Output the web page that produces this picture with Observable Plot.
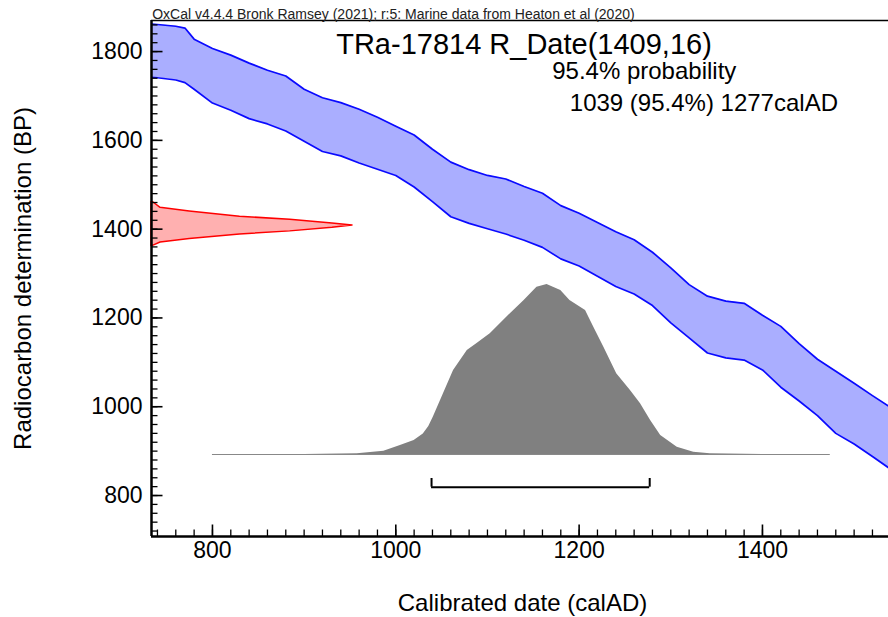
<!DOCTYPE html>
<html><head><meta charset="utf-8">
<script src="https://cdn.jsdelivr.net/npm/d3@7"></script>
<script src="https://cdn.jsdelivr.net/npm/@observablehq/plot@0.6"></script>
<style>
body{margin:0;background:#fff;}
#chart{width:888px;height:617px;overflow:hidden;}
</style></head><body><div id="chart"></div>
<script>
// ---- data ----
const curveYears = [733,740,760,770,780,800,820,840,860,880,900,920,940,960,980,1000,1020,1040,1060,1080,1100,1120,1140,1160,1180,1200,1220,1240,1260,1280,1300,1320,1340,1360,1380,1400,1420,1440,1460,1480,1500,1520,1540];
const curveUpper = [1862,1861,1857,1853,1828,1807,1792,1774,1758,1745,1715,1696,1685,1670,1652,1632,1612,1580,1551,1534,1521,1513,1496,1481,1453,1436,1415,1394,1376,1348,1313,1275,1249,1238,1233,1206,1181,1142,1107,1080,1053,1025,998];
const curveLower = [1742,1741,1736,1730,1715,1684,1668,1649,1637,1621,1598,1575,1565,1549,1535,1521,1495,1462,1428,1413,1401,1389,1375,1359,1333,1317,1294,1271,1254,1228,1189,1155,1121,1110,1105,1083,1044,1013,980,940,916,888,859];

const rBP      = [1461,1460,1448,1440,1428,1421,1413,1408.5,1403,1395,1388,1378,1370,1363,1362];
const rDensity = [0,0.01,0.045,0.19,0.44,0.69,0.90,1.0,0.90,0.69,0.44,0.19,0.045,0.01,0];

const calYears   = [800,900,958,987,1005,1020,1030,1036,1041,1052,1063,1078,1089,1103,1121,1140,1154,1165,1180,1190,1207,1216,1227,1241,1256,1267,1278,1289,1307,1325,1343,1400,1474];
const calDensity = [0,0,0.004,0.019,0.053,0.082,0.12,0.165,0.22,0.357,0.494,0.612,0.655,0.71,0.808,0.906,0.984,1.0,0.965,0.906,0.847,0.749,0.631,0.475,0.376,0.298,0.2,0.112,0.043,0.0135,0.004,0,0];

const rangeStart = 1039, rangeEnd = 1277;
const xMajor = [800,1000,1200,1400];
const yMajor = [800,1000,1200,1400,1600,1800];

const captionText = "OxCal v4.4.4 Bronk Ramsey (2021); r:5: Marine data from Heaton et al (2020)";
const titleText = "TRa-17814 R_Date(1409,16)";
const probText = "95.4% probability";
const rangeText = "1039 (95.4%) 1277calAD";
const xTitle = "Calibrated date (calAD)";
const yTitle = "Radiocarbon determination (BP)";

// ---- layout ----
const W = 888, H = 617, ML = 151, MT = 20, MB = 81, MR = 0;
const X0 = 733.5, X1 = 1537.5, Y0 = 707.7, Y1 = 1870;
const kx = (W - ML - MR) / (X1 - X0), ky = (H - MT - MB) / (Y1 - Y0);
const px = p => p / kx, py = p => p / ky;

const curve = curveYears.map((x, i) => ({x, hi: curveUpper[i], lo: curveLower[i]}));
const red = rBP.map((y, i) => ({y, d: rDensity[i]}));
const cal = calYears.map((x, i) => ({x, d: calDensity[i]}));

const RED_W = px(201);
const GREY_BASE = Y0 + py(82), GREY_H = py(170);
const BR_Y = Y0 + py(49.3), BR_T = py(8.7);

const font = "'Liberation Sans', Arial, Helvetica, sans-serif";

const chart = Plot.plot({
  width: W, height: H,
  marginLeft: ML, marginRight: MR, marginTop: MT, marginBottom: MB,
  x: {domain: [X0, X1]},
  y: {domain: [Y0, Y1]},
  style: {fontFamily: font, background: "white", color: "black"},
  marks: [
    Plot.areaY(curve, {x: "x", y1: "lo", y2: "hi", fill: "#aaaeff", clip: true}),
    Plot.lineY(curve, {x: "x", y: "hi", stroke: "#0a0aff", strokeWidth: 1.7, clip: true}),
    Plot.lineY(curve, {x: "x", y: "lo", stroke: "#0a0aff", strokeWidth: 1.7, clip: true}),
    Plot.areaY(cal, {x: "x", y1: GREY_BASE, y2: d => GREY_BASE + d.d * GREY_H, fill: "#808080"}),
    Plot.ruleY([GREY_BASE], {x1: calYears[0], x2: calYears[calYears.length - 1], stroke: "#888", strokeWidth: 1}),
    Plot.areaX(red, {y: "y", x1: X0, x2: d => X0 + d.d * RED_W, fill: "#ffb0b0", stroke: "#ff0000", strokeWidth: 1.5}),
    Plot.ruleY([BR_Y], {x1: rangeStart, x2: rangeEnd, stroke: "black", strokeWidth: 2}),
    Plot.ruleX([rangeStart, rangeEnd], {y1: BR_Y, y2: BR_Y + BR_T, stroke: "black", strokeWidth: 2}),
    // ticks (inside)
    Plot.ruleY(d3.range(720, 1870, 20), {x1: X0, x2: X0 + px(6.5), stroke: "black", strokeWidth: 1.3}),
    Plot.ruleY(yMajor, {x1: X0, x2: X0 + px(11.5), stroke: "black", strokeWidth: 1.6}),
    Plot.ruleX(d3.range(740, 1540, 20), {y1: Y0, y2: Y0 + py(6.5), stroke: "black", strokeWidth: 1.3}),
    Plot.ruleX(xMajor, {y1: Y0, y2: Y0 + py(11.5), stroke: "black", strokeWidth: 1.6}),
    // frame
    Plot.ruleY([Y1], {x1: X0, x2: X1, stroke: "black", strokeWidth: 1.5}),
    Plot.ruleX([X0], {y1: Y0, y2: Y1, stroke: "black", strokeWidth: 2.5}),
    Plot.ruleY([Y0], {x1: X0, x2: X1, stroke: "black", strokeWidth: 2.5}),
    // axes labels
    Plot.axisX({ticks: xMajor, tickSize: 0, tickPadding: 5, tickFormat: "d", fontSize: 23, label: null}),
    Plot.axisY({ticks: yMajor, tickSize: 0, tickPadding: 9, tickFormat: "d", fontSize: 23, label: null}),
    // texts
    Plot.text([captionText], {text: d => d, frameAnchor: "top-left", textAnchor: "start", lineAnchor: "bottom", dx: 0.7, dy: -2, fontSize: 14, fill: "#222"}),
    Plot.text([titleText], {text: d => d, frameAnchor: "top", textAnchor: "middle", lineAnchor: "bottom", dx: 4, dy: 33, fontSize: 29, fill: "black"}),
    Plot.text([probText], {text: d => d, frameAnchor: "top-left", textAnchor: "start", lineAnchor: "bottom", dx: 400.7, dy: 58, fontSize: 24, fill: "black"}),
    Plot.text([rangeText], {text: d => d, frameAnchor: "top-left", textAnchor: "start", lineAnchor: "bottom", dx: 418.3, dy: 90, fontSize: 24, fill: "black"}),
    Plot.text([xTitle], {text: d => d, frameAnchor: "bottom", textAnchor: "middle", lineAnchor: "bottom", dx: 2.5, dy: 74, fontSize: 24, fill: "black"}),
    Plot.text([yTitle], {text: d => d, frameAnchor: "left", textAnchor: "middle", lineAnchor: "middle", rotate: -90, dx: -128.5, fontSize: 24, fill: "black"})
  ]
});
document.getElementById("chart").appendChild(chart);
</script>
</body></html>
